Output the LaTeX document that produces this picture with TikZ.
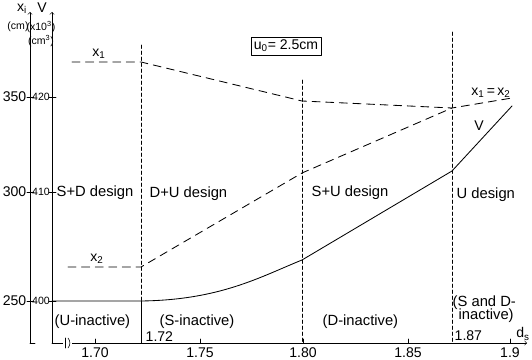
\documentclass[tikz,border=0pt]{standalone}
\usepackage{fontspec}
\setmainfont{Liberation Sans}
\begin{document}
\begin{tikzpicture}[x=0.25mm, y=-0.25mm, line join=round, line cap=round,
    every node/.style={inner sep=1pt, font=\fontsize{10}{12}\selectfont},
    small/.style={font=\fontsize{7.5}{9}\selectfont},
    guide/.style={thin, dash pattern=on 0.9mm off 0.6mm},
    branch/.style={semithick, dash pattern=on 2mm off 1.4mm},
    region/.style={anchor=west, font=\fontsize{10.5}{12}\selectfont}]
    \useasboundingbox (0,0) rectangle (532,360);

    \coordinate (O) at (52,343);
    \coordinate (Xend) at (527,343);
    \coordinate (Vtop) at (52,12);
    \coordinate (Xtop) at (30,12);
    \coordinate (Xbot) at (30,343);

    \draw[->] (O) -- (Xend);
    \draw[->] (O) -- (Vtop);
    \draw[->] (Xbot) -- (Xtop);
    \draw (Xbot) -- (35,343);
    \draw[fill=white, draw=white] (63,339) rectangle (71,347);
    \draw (65,338) -- (65,348);
    \draw (68,338) to[bend left=40] (68,348);

    \node at (22,9) {x\textsubscript{i}};
    \node at (42,8) {V};
    \node[small] at (18,27) {(cm)};
    \node[small] at (41,27) {(x10\textsuperscript{3})};
    \node[small] at (41,41) {(cm\textsuperscript{3})};

    \foreach \y/\a/\b in {97/350/420, 192/300/410, 301/250/400} {
        \draw (27,\y) -- (34,\y);
        \draw (49,\y) -- (56,\y);
        \node[anchor=east] at (28,\y) {\a};
        \node[small] at (41,\y) {\b};
    }

    \foreach \x/\t in {95/1.70, 200/1.75, 303/1.80, 408/1.85, 510/1.9} {
        \draw (\x,343) -- (\x,339);
        \node at (\x,353) {\t};
    }

    \coordinate (Pa) at (141,45);
    \coordinate (Pb) at (302,80);
    \coordinate (Pc) at (452,32);
    \coordinate (Qa) at (141,343);
    \coordinate (Qb) at (302,343);
    \coordinate (Qc) at (452,343);

    \draw[guide] (Pa) -- (141,301);
    \draw[thin] (141,301) -- (Qa);
    \draw[guide] (Pb) -- (Qb);
    \draw[guide] (Pc) -- (Qc);

    \coordinate (A1) at (72,62);
    \coordinate (B1) at (141,62);
    \coordinate (C1) at (302,101);
    \coordinate (M) at (452,108);
    \coordinate (E) at (512,98);
    \coordinate (A2) at (68,267);
    \coordinate (B2) at (141,267);
    \coordinate (C2) at (302,173);
    \coordinate (AV) at (52,301);
    \coordinate (BV) at (141,301);
    \coordinate (CV) at (302,260);
    \coordinate (DV) at (452,171);
    \coordinate (EV) at (512,106);

    \draw[branch] (A1) -- (B1) -- (C1) -- (M) -- (E);
    \draw[branch] (A2) -- (B2) -- (C2) -- (M);
    \draw[semithick] (AV) -- (BV) .. controls (220,300) and (260,277) .. (CV) -- (DV) -- (EV);

    \node at (99,54) {x\textsubscript{1}};
    \node at (97,259) {x\textsubscript{2}};
    \node at (491,93) {x\textsubscript{1}\,=\,x\textsubscript{2}};
    \node at (479,126) {V};
    \node[draw, inner sep=2pt] at (286,46) {u\textsubscript{0}= 2.5cm};

    \node[region] at (55,193) {S+D design};
    \node[region] at (148,194) {D+U design};
    \node[region] at (310,193) {S+U design};
    \node[region] at (455,195) {U design};

    \node[region] at (53,322) {(U-inactive)};
    \node[region] at (158,322) {(S-inactive)};
    \node[region] at (321,322) {(D-inactive)};
    \node[region] at (451,303) {(S and D-};
    \node[region] at (457,316) {inactive)};

    \node[anchor=west] at (144,337) {1.72};
    \node[anchor=west] at (453,336) {1.87};
    \node at (523,334) {d\textsubscript{s}};
\end{tikzpicture}
\end{document}
